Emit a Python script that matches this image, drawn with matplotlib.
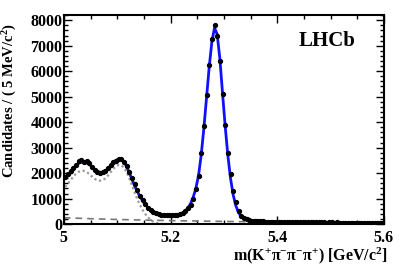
import numpy as np
import matplotlib
matplotlib.use('Agg')
import matplotlib.pyplot as plt
from matplotlib.ticker import MultipleLocator

plt.rcParams['font.family'] = ['Liberation Serif', 'DejaVu Serif']
plt.rcParams['font.weight'] = 'bold'
plt.rcParams['mathtext.fontset'] = 'custom'
plt.rcParams['mathtext.rm'] = 'Liberation Serif:bold'
plt.rcParams['mathtext.it'] = 'Liberation Serif:italic:bold'
plt.rcParams['mathtext.bf'] = 'Liberation Serif:bold'

# bin centres, 5 MeV bins from 5.0 to 5.6 GeV
bin_lo = 5.0
bin_width = 0.005

# data counts per bin
counts = [1850, 1950, 2100, 2200, 2330, 2480, 2500, 2450, 2460, 2380,
          2250, 2130, 2060, 2020, 2050, 2100, 2200, 2300, 2420, 2480,
          2560, 2550, 2450, 2280, 2050, 1800, 1560, 1330, 1120, 940,
          790, 650, 540, 470, 420, 390, 370, 350, 340, 340,
          350, 360, 370, 400, 440, 520, 620, 750, 970, 1360,
          1900, 2800, 3840, 5060, 6230, 7250, 7800, 7400, 6400, 5100,
          3900, 2800, 1950, 1300, 850, 520, 330, 240, 190, 160,
          140, 130, 120, 110, 105, 100, 100, 95, 90, 90,
          85, 82, 88, 80, 78, 83, 75, 77, 72, 79,
          70, 74, 68, 71, 66, 70, 64, 67, 62, 66,
          63, 60, 64, 58, 61, 57, 60, 55, 58, 54,
          57, 52, 55, 51, 54, 50, 53, 49, 51, 48]

# total fit at bin centres
total_fit = [1800, 1900, 2030, 2170, 2290, 2380, 2430, 2440, 2410, 2340,
             2250, 2150, 2070, 2030, 2030, 2080, 2170, 2290, 2410, 2500,
             2550, 2540, 2450, 2270, 2030, 1770, 1520, 1290, 1090, 920,
             770, 650, 550, 480, 420, 380, 350, 330, 320, 320,
             325, 335, 350, 380, 430, 510, 630, 800, 1050, 1400,
             1900, 2700, 3750, 4950, 6150, 7150, 7700, 7450, 6500, 5150,
             3850, 2700, 1800, 1150, 720, 450, 300, 220, 180, 155,
             140, 128, 118, 110, 104, 99, 95, 91, 88, 85,
             83, 82, 80, 79, 78, 77, 76, 75, 74, 73,
             72, 71, 70, 69, 68, 67, 66, 65, 64, 63,
             62, 61, 60, 59, 58, 58, 57, 56, 55, 55,
             54, 53, 53, 52, 51, 51, 50, 50, 49, 48]

# partially reconstructed background (dotted), first 42 bins
partreco = [1460, 1580, 1720, 1860, 1970, 2050, 2090, 2090, 2050, 1970,
            1870, 1780, 1720, 1700, 1720, 1790, 1900, 2030, 2160, 2260,
            2320, 2310, 2220, 2050, 1810, 1530, 1250, 990, 760, 560,
            400, 270, 170, 100, 55, 25, 10, 4, 1, 0, 0, 0]

# combinatorial background (dashed)
comb_m = [5.0, 5.05, 5.1, 5.15, 5.2, 5.25, 5.3, 5.35, 5.4, 5.45, 5.5, 5.55, 5.6]
comb = [250, 212, 182, 158, 138, 120, 105, 92, 81, 71, 62, 53, 46]

centres = bin_lo + bin_width*(np.arange(len(counts)) + 0.5)
counts = np.array(counts)

fig = plt.figure(figsize=(3.99, 2.70), dpi=100)
ax = fig.add_axes([0.160, 0.170, 0.802, 0.774])

ax.plot(comb_m, comb, ls=(0, (4, 3)), color='#777777', lw=1.2, zorder=2)
ax.plot(centres[:len(partreco)], partreco, ls=(0, (1, 1.2)), color='#999999', lw=1.6, zorder=2)
ax.plot(centres, total_fit, color='#1010ff', lw=2.0, zorder=3)
ax.errorbar(centres, counts, yerr=np.sqrt(counts), fmt='o', ms=2.8, color='black',
            ecolor='black', elinewidth=0.8, capsize=0, zorder=4)

ax.set_xlim(5.0, 5.6)
ax.set_ylim(0, 8200)
ax.xaxis.set_minor_locator(MultipleLocator(0.05))
ax.yaxis.set_major_locator(MultipleLocator(1000))
ax.yaxis.set_minor_locator(MultipleLocator(200))
ax.tick_params(which='both', direction='in', top=True, right=True, labelsize=11.5, width=1.0)
ax.tick_params(which='major', length=6)
ax.tick_params(which='minor', length=3)
ax.tick_params(axis='x', pad=4)
ax.tick_params(axis='y', pad=1)
ax.set_xticks([5.0, 5.2, 5.4, 5.6])
ax.set_xticklabels(['5', '5.2', '5.4', '5.6'])
for sp in ax.spines.values():
    sp.set_linewidth(1.5)

ax.set_xlabel('m(K$^{+}$π$^{-}$π$^{-}$π$^{+}$) [GeV/c$^{2}$]', fontsize=11.5, fontweight='bold')
ax.xaxis.set_label_coords(0.77, -0.10)
ax.set_ylabel('Candidates / ( 5 MeV/c$^{2}$)', fontsize=10.5, fontweight='bold')
ax.yaxis.set_label_coords(-0.14, 0.59)
ax.text(0.735, 0.85, 'LHCb', transform=ax.transAxes, fontsize=15, fontweight='bold')

fig.savefig('out.png', dpi=100)
